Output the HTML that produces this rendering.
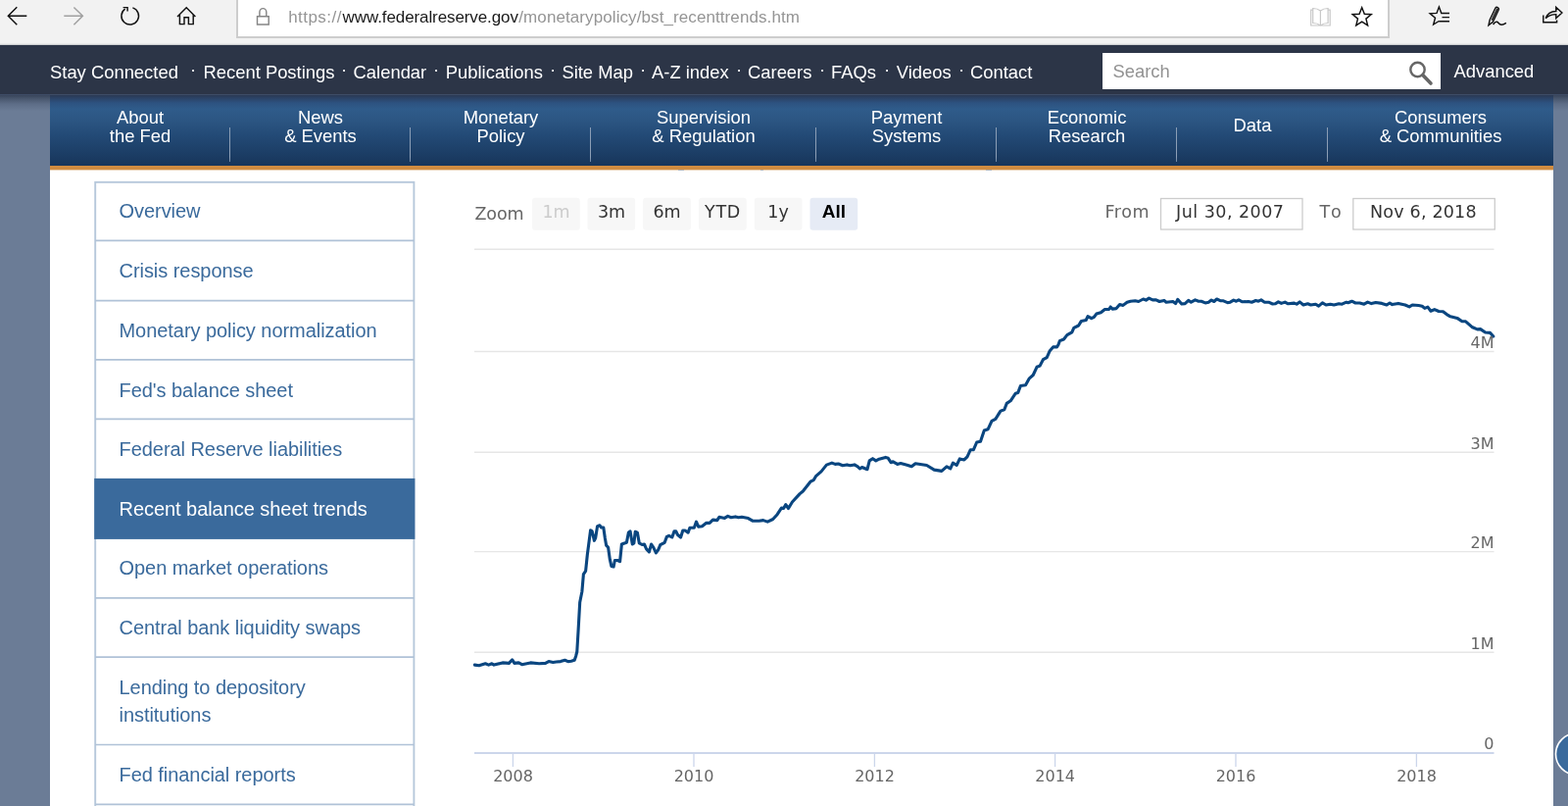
<!DOCTYPE html>
<html lang="en">
<head>
<meta charset="utf-8">
<title>Federal Reserve Board - Recent balance sheet trends</title>
<style>
*{box-sizing:border-box;margin:0;padding:0}
html,body{width:1600px;height:822px;overflow:hidden}
body{position:relative;background:#6b7c96;font-family:"Liberation Sans",Arial,sans-serif;}
.abs{position:absolute}
#chrome{left:0;top:0;width:1600px;height:46px;background:linear-gradient(#f2f2f2 0,#f2f2f2 44px,#e4e4e4 45px,#b9bcc2 46px)}
#addr{left:240.5px;top:-2px;width:1177.3px;height:40.6px;background:#fff;border:2px solid #cdcdcd;}
#url{left:0;top:6.8px;font-size:17px;line-height:22px;color:#959595;white-space:nowrap}
#url span{position:absolute;top:0}
#url span.d{color:#1a1a1a}
#topbar{left:0;top:46px;width:1600px;height:50px;background:#2c3547}
#toplinks{left:51px;top:62.5px;font-size:18.4px;line-height:22px;color:#fff;white-space:nowrap}
#toplinks span{position:absolute;top:0}
#toplinks span.dot{top:-3px}
#search{left:1125px;top:54px;width:345px;height:37px;background:#fff}
#search .ph{left:10.5px;top:8px;font-size:18.4px;line-height:22px;color:#929292}
#adv{left:1483.5px;top:62px;font-size:18.4px;line-height:22px;color:#fff}
#shadow{left:0;top:96px;width:1600px;height:17px;background:linear-gradient(#3e4c66 0,#3e4c66 1px,#38445a 1px,#4a586f 5px,#5d6d87 10px,#6b7c96 17px)}
#nav{left:51px;top:96px;width:1534px;height:73px;background:linear-gradient(#3e4c66 0,#3e4c66 1px,#2b3953 1px,#2b4265 4px,#2d5280 9px,#2f5b8a 15px,#2c5683 26px,#234a76 42px,#1c3e66 60px,#17355a 73px)}
#nav .it{position:absolute;top:14px;width:200px;margin-left:-100px;text-align:center;color:#fff;font-size:18.4px;line-height:19px;white-space:nowrap}
#nav .it.one{top:22px}
#nav .dv{position:absolute;top:34px;width:1.5px;height:35px;margin-left:-0.5px;background:linear-gradient(#8a9db5,#8ea0b7 85%,#6f86a3)}
#orange{z-index:2;left:51px;top:169px;width:1534px;height:5px;background:linear-gradient(#d08c40 0,#d08c40 4px,#ecd3b6 4px,#ecd3b6 5px)}
#content{left:51px;top:173px;width:1534px;height:649px;background:#fff}
#side{left:97px;top:185px;width:326px}
#side .si{position:absolute;left:24.5px;white-space:nowrap;color:#3a6a9c;font-size:20px;line-height:28px;letter-spacing:-0.05px}
#side .si.act{color:#fff}
svg text{font-family:"DejaVu Sans","Liberation Sans",sans-serif}
</style>
</head>
<body>
<div id="chrome" class="abs"></div>
<div id="addr" class="abs"></div>
<svg class="abs" style="left:0;top:0" width="1600" height="46" viewBox="0 0 1600 46" fill="none" stroke="#111" stroke-width="1.45">
 <!-- back -->
 <path d="M27.3 16.2H8.6M17.3 7.2L8.3 16.2L17.3 25.2"/>
 <!-- forward -->
 <path d="M65.3 16.2H84.2M75.4 7.4L84.4 16.2L75.4 25.2" stroke="#a0a0a0"/>
 <!-- refresh -->
 <path d="M135.4 7.9A8.8 8.8 0 1 1 127.6 9.1M125.6 7.6H130.1V11.6"/>
 <!-- home -->
 <path d="M181 17L190.2 7.8L199.4 17M183.4 15V24.6H188V17.8H192.4V24.6H197.2V15"/>
 <!-- lock -->
 <path d="M262.5 16.7H274.2V25H262.5ZM264.9 16.7V12.3A3.4 3.6 0 0 1 271.8 12.3V16.7" stroke="#858585"/>
 <!-- reading view -->
 <path d="M1347.4 11V26M1347.4 11C1345 9 1342.500 8.500 1339.700 8.500V23.500C1342.500 23.500 1345 24 1347.400 26C1349.800 24 1352.300 23.500 1355.100 23.500V8.500C1352.300 8.500 1349.800 9 1347.400 11M1339.700 10.200H1337.700V26H1357.200V10.200H1355.100" stroke="#c8c8c8" stroke-width="1.200"/>
 <!-- star -->
 <path d="M1389.700 7.800L1392.300 14.300L1399.200 14.700L1393.900 19.100L1395.600 25.900L1389.700 22.100L1383.800 25.900L1385.500 19.100L1380.200 14.700L1387.100 14.300Z"/>
 <!-- hub -->
 <path d="M1479 13.400H1470.800L1468.400 7L1466 13.400L1459.200 13.800L1464.500 18.200L1462.700 25L1468.300 21.500M1471.500 17.600H1479M1468.300 21.800H1479"/>
 <!-- pen -->
 <path d="M1519 25.700L1520.200 20.300L1526 8.200C1527 6.500 1529.900 7.700 1529.300 9.700L1523.400 22.200ZM1522.300 20.700L1528 8.700M1523.600 25C1525.600 22 1527.600 21.500 1529.100 23.500C1530.600 25.500 1533.300 25.800 1536.900 23.300"/>
 <!-- share -->
 <path d="M1574.800 15.600V22.800H1588.600V20.400M1577.200 18.600C1578.800 14 1582.800 11.400 1587.800 11.400V7.400L1593.900 13L1587.800 18.600V14.600C1583 14.600 1580 16 1577.200 18.600Z"/>
</svg>
<div id="url" class="abs"><span style="left:294.2px;letter-spacing:0.45px">https://</span><span class="d" style="left:349.6px;letter-spacing:-0.1px">www.federalreserve.gov</span><span style="left:529.3px;letter-spacing:0.09px">/monetarypolicy/bst_recenttrends.htm</span></div>

<div id="topbar" class="abs"></div>
<div id="toplinks" class="abs">
<span style="left:0">Stay Connected</span>
<span class="dot" style="left:143px">·</span><span style="left:156.5px">Recent Postings</span>
<span class="dot" style="left:297px">·</span><span style="left:309.6px">Calendar</span>
<span class="dot" style="left:391px">·</span><span style="left:403.8px">Publications</span>
<span class="dot" style="left:510px">·</span><span style="left:522.4px">Site Map</span>
<span class="dot" style="left:602px">·</span><span style="left:614px">A-Z index</span>
<span class="dot" style="left:700px">·</span><span style="left:712px">Careers</span>
<span class="dot" style="left:785px">·</span><span style="left:797px">FAQs</span>
<span class="dot" style="left:851px">·</span><span style="left:863.8px">Videos</span>
<span class="dot" style="left:927px">·</span><span style="left:939px">Contact</span>
</div>
<div id="search" class="abs"><div class="ph abs">Search</div>
<svg class="abs" style="left:310px;top:6px" width="30" height="28" viewBox="0 0 30 28" fill="none"><circle cx="11.5" cy="11" r="7.2" stroke="#666" stroke-width="2.4"/><path d="M16.8 16.6L25 25" stroke="#666" stroke-width="3.6" stroke-linecap="round"/></svg>
</div>
<div id="adv" class="abs">Advanced</div>

<div id="shadow" class="abs"></div>
<div id="nav" class="abs">
 <div class="it" style="left:92px">About<br>the Fed</div>
 <div class="dv" style="left:183px"></div>
 <div class="it" style="left:276px">News<br>&amp; Events</div>
 <div class="dv" style="left:367px"></div>
 <div class="it" style="left:460px">Monetary<br>Policy</div>
 <div class="dv" style="left:551px"></div>
 <div class="it" style="left:667px">Supervision<br>&amp; Regulation</div>
 <div class="dv" style="left:781px"></div>
 <div class="it" style="left:874px">Payment<br>Systems</div>
 <div class="dv" style="left:965px"></div>
 <div class="it" style="left:1058px">Economic<br>Research</div>
 <div class="dv" style="left:1149px"></div>
 <div class="it one" style="left:1227px">Data</div>
 <div class="dv" style="left:1303px"></div>
 <div class="it" style="left:1419px">Consumers<br>&amp; Communities</div>
</div>
<div id="orange" class="abs"></div>
<div id="content" class="abs"><i class="abs" style="z-index:3;left:641px;top:0;width:6px;height:1.2px;background:#b4b4b4"></i><i class="abs" style="z-index:3;left:725px;top:0;width:3px;height:1.2px;background:#b4b4b4"></i><i class="abs" style="z-index:3;left:955px;top:0;width:6px;height:1.2px;background:#b4b4b4"></i></div>

<svg class="abs" style="left:90px;top:180px" width="340" height="642" viewBox="90 180 340 642">
 <rect x="97.2" y="185.8" width="325.2" height="650" fill="#fff" stroke="#b7c8db" stroke-width="1.9"/>
 <path d="M97.2 245.4H422.4M97.2 306.6H422.4M97.2 366.9H422.4M97.2 427.3H422.4M97.2 609.8H422.4M97.2 670.1H422.4M97.2 759.5H422.4M97.2 820.3H422.4" stroke="#b0c2d7" stroke-width="1.7" fill="none"/>
 <rect x="96.2" y="487.9" width="327.2" height="62" fill="#3a6a9c"/>
</svg>
<div id="side" class="abs">
 <div class="si" style="top:16px">Overview</div>
 <div class="si" style="top:77px">Crisis response</div>
 <div class="si" style="top:138px">Monetary policy normalization</div>
 <div class="si" style="top:199px">Fed's balance sheet</div>
 <div class="si" style="top:259px">Federal Reserve liabilities</div>
 <div class="si act" style="top:320px">Recent balance sheet trends</div>
 <div class="si" style="top:380px">Open market operations</div>
 <div class="si" style="top:441px">Central bank liquidity swaps</div>
 <div class="si" style="top:502px">Lending to depository<br>institutions</div>
 <div class="si" style="top:591px">Fed financial reports</div>
</div>

<svg class="abs" style="left:0;top:173px" width="1600" height="649" viewBox="0 173 1600 649">
 <g stroke="#e6e6e6" stroke-width="1.4" fill="none">
  <path d="M484 254.3H1524.5M484 358.5H1524.5M484 461.3H1524.5M484 562.6H1524.5M484 665.3H1524.5"/>
 </g>
 <path d="M484 768H1524.500" stroke="#ccd6eb" stroke-width="2.200"/>
 <g stroke="#ccd6eb" stroke-width="1.300"><path d="M523.400 768V782M708 768V782M892.400 768V782M1076.600 768V782M1261 768V782M1445.400 768V782"/></g>
 <path d="M484.4 678.1 L488.8 678.8 L495.3 676.8 L498.6 678.1 L501.9 676.8 L504.1 678.1 L512.8 675.9 L519.4 676.4 L522.7 672.8 L524.9 676.4 L529.3 675.9 L532.6 677.7 L541.3 675.9 L550.1 676.8 L556.6 676.4 L559.9 674.6 L564.3 675.5 L567.6 675.0 L572.0 674.6 L576.4 673.3 L579.6 674.6 L582.9 674.2 L586.2 673.3 L587.7 668.9 L588.8 664.5 L590.1 642.6 L591.7 614.2 L593.9 603.2 L595.4 585.7 L597.6 582.4 L599.3 566.0 L602.6 540.8 L604.2 541.9 L606.4 551.3 L607.7 548.5 L609.6 536.6 L612.0 535.8 L613.6 538.0 L615.8 538.0 L617.3 548.5 L618.6 556.1 L620.6 558.3 L622.3 570.4 L623.9 577.4 L626.1 578.0 L627.4 571.5 L630.0 571.5 L632.6 572.6 L634.4 555.0 L639.4 553.3 L641.4 543.0 L643.1 541.9 L645.3 555.0 L646.9 553.9 L648.2 542.3 L650.4 543.2 L652.3 553.9 L655.2 555.5 L657.4 555.0 L659.6 559.9 L662.4 562.9 L664.6 555.0 L666.8 558.3 L669.4 563.8 L671.6 560.9 L673.8 555.7 L678.2 553.3 L680.4 547.4 L682.6 546.3 L685.8 548.0 L688.0 541.9 L689.8 541.9 L691.3 545.2 L694.6 548.0 L696.8 541.0 L699.0 541.0 L702.2 543.1 L703.9 538.2 L708.3 538.2 L710.5 532.1 L712.7 537.2 L716.4 536.7 L720.8 533.2 L724.1 533.4 L727.4 530.1 L731.8 530.6 L733.9 527.3 L739.4 528.4 L742.7 526.4 L746.0 527.7 L750.4 526.9 L753.6 527.7 L756.9 527.3 L763.5 528.6 L767.9 531.2 L774.5 531.2 L778.8 530.6 L783.2 532.1 L788.7 529.5 L793.1 524.7 L797.4 518.1 L799.6 518.5 L801.8 514.6 L804.5 518.5 L808.4 512.0 L816.1 503.6 L819.3 501.0 L827.0 491.2 L830.3 489.6 L832.5 485.7 L838.0 480.9 L843.4 474.1 L848.9 472.1 L852.2 473.4 L855.5 473.0 L859.9 474.7 L864.2 473.9 L867.5 474.7 L871.9 473.9 L875.2 475.8 L877.4 478.0 L879.6 476.5 L885.0 478.7 L887.2 469.9 L890.5 467.7 L893.8 469.9 L897.1 468.2 L903.6 466.4 L906.3 467.3 L909.1 471.7 L911.3 470.8 L915.7 473.4 L919.0 472.6 L925.5 474.3 L930.2 475.8 L934.1 472.7 L945.6 474.5 L953.2 479.1 L960.9 480.4 L966.0 475.8 L969.8 477.9 L972.4 472.2 L976.2 474.5 L979.3 467.9 L983.9 468.9 L987.0 465.8 L990.3 458.7 L993.4 458.7 L996.7 451.0 L1000.5 450.3 L1004.3 439.0 L1008.2 437.7 L1012.0 429.3 L1015.8 427.3 L1021.0 419.1 L1024.8 417.8 L1027.3 411.4 L1031.2 408.8 L1036.3 401.2 L1038.8 400.4 L1041.4 393.5 L1046.5 392.7 L1050.4 385.8 L1054.2 382.5 L1058.0 374.3 L1061.1 373.1 L1064.4 366.7 L1068.2 364.6 L1071.3 357.7 L1074.6 353.9 L1078.5 353.9 L1080.0 351.5 L1081.4 347.6 L1085.5 346.0 L1088.9 341.6 L1093.8 338.9 L1095.8 334.3 L1100.6 332.0 L1103.4 327.4 L1108.2 326.5 L1110.0 322.6 L1113.7 324.7 L1116.4 323.3 L1118.8 320.1 L1123.3 318.8 L1127.4 315.5 L1131.6 315.5 L1133.2 313.0 L1135.0 315.1 L1139.1 314.6 L1142.6 310.5 L1146.0 311.4 L1150.1 308.2 L1153.6 307.2 L1158.4 306.8 L1161.8 307.5 L1166.6 305.0 L1169.4 306.1 L1172.4 304.1 L1176.2 305.9 L1179.7 305.9 L1183.1 307.5 L1187.9 306.4 L1190.0 308.2 L1196.9 307.5 L1199.6 309.6 L1201.7 305.4 L1205.8 310.0 L1209.2 309.6 L1212.7 306.4 L1215.4 308.2 L1219.6 305.9 L1223.0 307.2 L1225.8 307.2 L1229.9 308.9 L1233.3 308.2 L1236.1 306.1 L1238.8 307.5 L1241.6 305.0 L1245.7 306.8 L1248.4 306.8 L1252.6 308.6 L1255.3 308.2 L1258.8 306.1 L1261.5 307.2 L1264.0 305.9 L1267.7 307.8 L1273.9 307.5 L1277.3 308.2 L1281.4 306.5 L1284.2 307.2 L1286.9 305.9 L1290.4 308.2 L1294.5 308.2 L1298.6 310.0 L1301.2 309.8 L1304.4 307.9 L1307.5 309.4 L1311.2 308.1 L1314.4 309.8 L1320.6 309.1 L1323.1 310.2 L1326.2 307.9 L1330.0 311.0 L1334.4 309.8 L1337.5 311.0 L1342.5 310.2 L1345.6 312.1 L1349.4 308.8 L1353.1 311.0 L1357.5 310.2 L1361.2 310.9 L1366.2 309.8 L1369.4 310.2 L1373.8 308.2 L1375.6 308.8 L1379.4 307.2 L1383.1 309.0 L1387.5 309.0 L1391.9 310.2 L1395.6 308.1 L1399.4 309.6 L1403.8 308.5 L1410.0 309.4 L1415.0 311.0 L1418.1 309.0 L1420.6 310.6 L1426.9 309.4 L1433.8 311.0 L1438.1 312.9 L1441.2 311.0 L1447.5 311.5 L1451.2 312.2 L1453.8 314.4 L1456.9 313.1 L1460.0 317.2 L1463.8 315.6 L1468.1 317.5 L1472.5 317.8 L1476.2 320.6 L1480.0 322.8 L1486.9 324.4 L1491.9 327.8 L1495.6 327.8 L1502.5 333.8 L1507.5 335.9 L1510.6 335.6 L1515.6 339.0 L1520.6 339.4 L1523.8 343.1" fill="none" stroke="#0a4680" stroke-width="3.1" stroke-linejoin="round" stroke-linecap="round"/>
 <g font-size="16" fill="#666" text-anchor="middle">
  <text x="523.500" y="796.500">2008</text><text x="708" y="796.500">2010</text><text x="892.500" y="796.500">2012</text>
  <text x="1076.700" y="796.500">2014</text><text x="1261" y="796.500">2016</text><text x="1445.500" y="796.500">2018</text>
 </g>
 <g font-size="16" fill="#666" text-anchor="end">
  <text x="1524.5" y="355">4M</text><text x="1524.5" y="457.6">3M</text><text x="1524.5" y="558.9">2M</text>
  <text x="1524.5" y="661.9">1M</text><text x="1524.5" y="764">0</text>
 </g>
 <!-- range selector -->
 <g font-size="17.500">
  <text x="484.500" y="223.7" fill="#666" textLength="50" lengthAdjust="spacing">Zoom</text>
  <g fill="#f7f7f7">
   <rect x="543" y="201.8" width="48.7" height="33" rx="3"/>
   <rect x="599.500" y="201.8" width="48.7" height="33" rx="3"/>
   <rect x="656.200" y="201.8" width="48.7" height="33" rx="3"/>
   <rect x="713" y="201.8" width="48.7" height="33" rx="3"/>
   <rect x="769.800" y="201.8" width="48.7" height="33" rx="3"/>
  </g>
  <rect x="826.500" y="201.8" width="48.7" height="33" rx="3" fill="#e6ebf5"/>
  <g text-anchor="middle" fill="#333">
   <text x="567.500" y="222" fill="#ccc">1m</text>
   <text x="624" y="222">3m</text>
   <text x="680.500" y="222">6m</text>
   <text x="737.5" y="222" letter-spacing="0.7">YTD</text>
   <text x="794" y="222">1y</text>
   <text x="851" y="222" fill="#000" font-weight="bold" font-size="19" style="font-family:'Liberation Sans',sans-serif">All</text>
  </g>
  <text x="1127.500" y="222" fill="#666" textLength="45" lengthAdjust="spacing">From</text>
  <text x="1346.5" y="222" fill="#666" textLength="22.3" lengthAdjust="spacing">To</text>
  <rect x="1184.500" y="202.500" width="144.500" height="31.500" fill="#fff" stroke="#ccc" stroke-width="1.300"/>
  <rect x="1380.800" y="202.500" width="144.500" height="31.500" fill="#fff" stroke="#ccc" stroke-width="1.300"/>
  <text x="1200" y="222" fill="#333" textLength="110" lengthAdjust="spacing">Jul 30, 2007</text>
  <text x="1398" y="222" fill="#333" textLength="108.600" lengthAdjust="spacing">Nov 6, 2018</text>
 </g>
</svg>
<svg class="abs" style="left:1580px;top:740px" width="20" height="60" viewBox="1580 740 20 60"><circle cx="1608.500" cy="769" r="21" fill="#3a6a9c" stroke="#fff" stroke-width="1.600"/></svg>
</body>
</html>
